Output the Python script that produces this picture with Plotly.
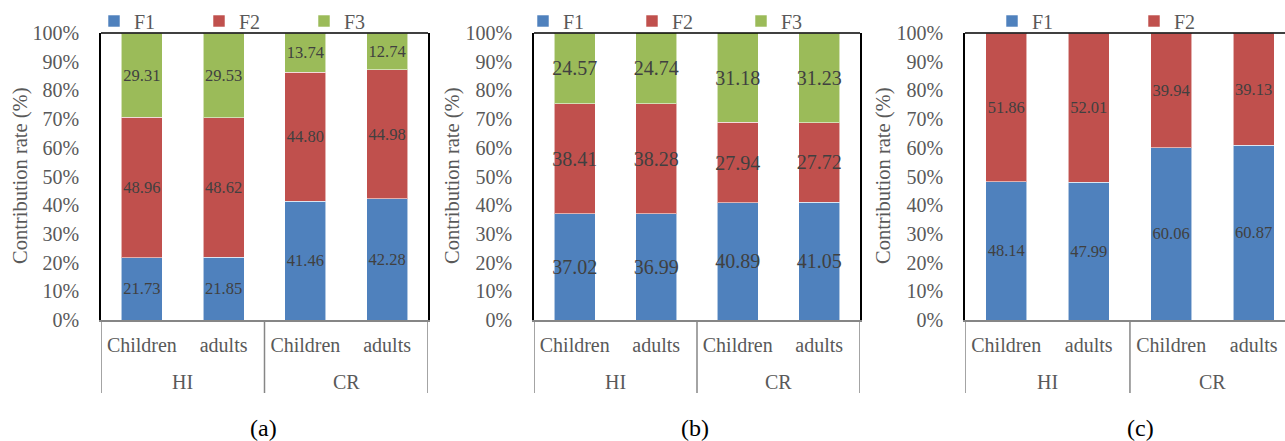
import plotly.graph_objects as go

# Category structure shared by all three panels
groups = ["HI", "HI", "CR", "CR"]
people = ["Children", "adults", "Children", "adults"]

# Panel (a)
a_f1 = [21.73, 21.85, 41.46, 42.28]
a_f2 = [48.96, 48.62, 44.80, 44.98]
a_f3 = [29.31, 29.53, 13.74, 12.74]

# Panel (b)
b_f1 = [37.02, 36.99, 40.89, 41.05]
b_f2 = [38.41, 38.28, 27.94, 27.72]
b_f3 = [24.57, 24.74, 31.18, 31.23]

# Panel (c)
c_f1 = [48.14, 47.99, 60.06, 60.87]
c_f2 = [51.86, 52.01, 39.94, 39.13]

y_ticks = list(range(0, 101, 10))
y_tick_text = [f"{v}%" for v in y_ticks]

COLORS = {"F1": "#4F81BD", "F2": "#C0504D", "F3": "#9BBB59"}
FONT = "Liberation Serif, Times New Roman, serif"
GRAY = "#595959"
DIV = "#868686"
W, H = 1285, 441

xpos = list(range(len(people)))

fig = go.Figure()

panels = [
    # (series, axis suffix, legend id, label size)
    ([("F1", a_f1), ("F2", a_f2), ("F3", a_f3)], "", "legend", 16.5),
    ([("F1", b_f1), ("F2", b_f2), ("F3", b_f3)], "2", "legend2", 20),
    ([("F1", c_f1), ("F2", c_f2)], "3", "legend3", 16.5),
]

for series, ax, leg, lsize in panels:
    for name, vals in series:
        fig.add_trace(go.Bar(
            x=xpos, y=vals, name=name,
            customdata=[[g, p] for g, p in zip(groups, people)],
            hovertemplate="%{customdata[0]} %{customdata[1]}: %{y:.2f}%<extra>"
                          + name + "</extra>",
            marker=dict(color=COLORS[name],
                        line=dict(color="rgba(255,255,255,0.55)", width=1)),
            texttemplate="%{y:.2f}",
            textposition="inside", insidetextanchor="middle",
            textangle=0, constraintext="none",
            textfont=dict(family=FONT, size=lsize, color="#404040"),
            xaxis="x" + ax, yaxis="y" + ax, legend=leg,
        ))

def px(x):
    return x / W

def py(y):
    return 1 - y / H

y0, y1 = py(320), py(33)
n = len(people)
# (x domain, x range, closed right edge)
domains = [
    ([px(101), px(428)], [-0.5, n - 0.5], True),
    ([px(534), px(860)], [-0.5, n - 0.5], True),
    ([px(965), 1.0], [-0.5, n - 0.62], False),
]

layout = dict(
    width=W, height=H, autosize=False,
    margin=dict(l=0, r=0, t=0, b=0, autoexpand=False),
    paper_bgcolor="white", plot_bgcolor="white",
    barmode="stack", bargap=0.5,
    font=dict(family=FONT, size=20, color=GRAY),
)

for i, (dom, rng, closed) in enumerate(domains):
    s = "" if i == 0 else str(i + 1)
    layout["xaxis" + s] = dict(
        domain=dom, range=rng, anchor="y" + s, automargin=False,
        tickmode="array", tickvals=xpos, ticktext=people, tickangle=0,
        showline=True, linecolor=DIV, linewidth=2,
        ticks="", showgrid=False, zeroline=False,
        ticklabelstandoff=6,
        tickfont=dict(family=FONT, size=20, color=GRAY),
    )
    layout["yaxis" + s] = dict(
        domain=[y0, y1], range=[0, 100], anchor="x" + s,
        automargin=False,
        tickmode="array", tickvals=y_ticks, ticktext=y_tick_text,
        showline=True, linecolor="black", linewidth=1.5, mirror=closed,
        showgrid=False, zeroline=False, ticks="",
        ticklabelstandoff=16,
        tickfont=dict(family=FONT, size=20, color=GRAY),
    )

fig.update_layout(**layout)

# Group boundaries and group centres along the category axis
bounds = [-0.5] + [i - 0.5 for i in range(1, n) if groups[i] != groups[i - 1]] + [n - 0.5]
group_names = [groups[int(b + 0.5)] for b in bounds[:-1]]
group_centres = [(bounds[k] + bounds[k + 1]) / 2 for k in range(len(group_names))]

for i in range(3):
    s = "" if i == 0 else str(i + 1)
    # Black top edge of the plot area
    fig.add_shape(type="line", xref=f"x{s} domain", yref=f"y{s} domain",
                  x0=0, x1=1, y0=1, y1=1,
                  line=dict(color="black", width=1.5))
    # Vertical dividers of the two-level category axis
    for b in bounds:
        fig.add_shape(type="line", xref=f"x{s}", yref="paper",
                      x0=b, x1=b, y0=py(393), y1=py(320),
                      line=dict(color=DIV, width=1.5))
    # Outer level labels (HI / CR)
    for g, c in zip(group_names, group_centres):
        fig.add_annotation(text=g, x=c, xref=f"x{s}", y=py(382), yref="paper",
                           showarrow=False, xanchor="center", yanchor="middle",
                           font=dict(family=FONT, size=20, color=GRAY))

# Legends above each panel
legend_pos = [(94, 60), (523, 64), (992, 97)]
for i, (lx, ew) in enumerate(legend_pos):
    key = "legend" if i == 0 else f"legend{i + 1}"
    fig.update_layout(**{key: dict(
        orientation="h", traceorder="normal",
        x=px(lx), xanchor="left", y=py(21), yanchor="middle",
        entrywidth=ew, entrywidthmode="pixels",
        bgcolor="rgba(0,0,0,0)", borderwidth=0,
        font=dict(family=FONT, size=20, color=GRAY),
        itemclick=False, itemdoubleclick=False,
    )})

# Axis titles and panel captions
for xc in (20, 452, 883):
    fig.add_annotation(text="Contribution rate (%)", x=px(xc), y=py(176),
                       xref="paper", yref="paper", textangle=-90,
                       showarrow=False, xanchor="center", yanchor="middle",
                       font=dict(family=FONT, size=20.5, color=GRAY))

for label, xc in (("(a)", 263), ("(b)", 695), ("(c)", 1140)):
    fig.add_annotation(text=label, x=px(xc), y=py(428), xref="paper",
                       yref="paper", showarrow=False,
                       xanchor="center", yanchor="middle",
                       font=dict(family=FONT, size=24, color="black"))

fig.write_html("out.html")
